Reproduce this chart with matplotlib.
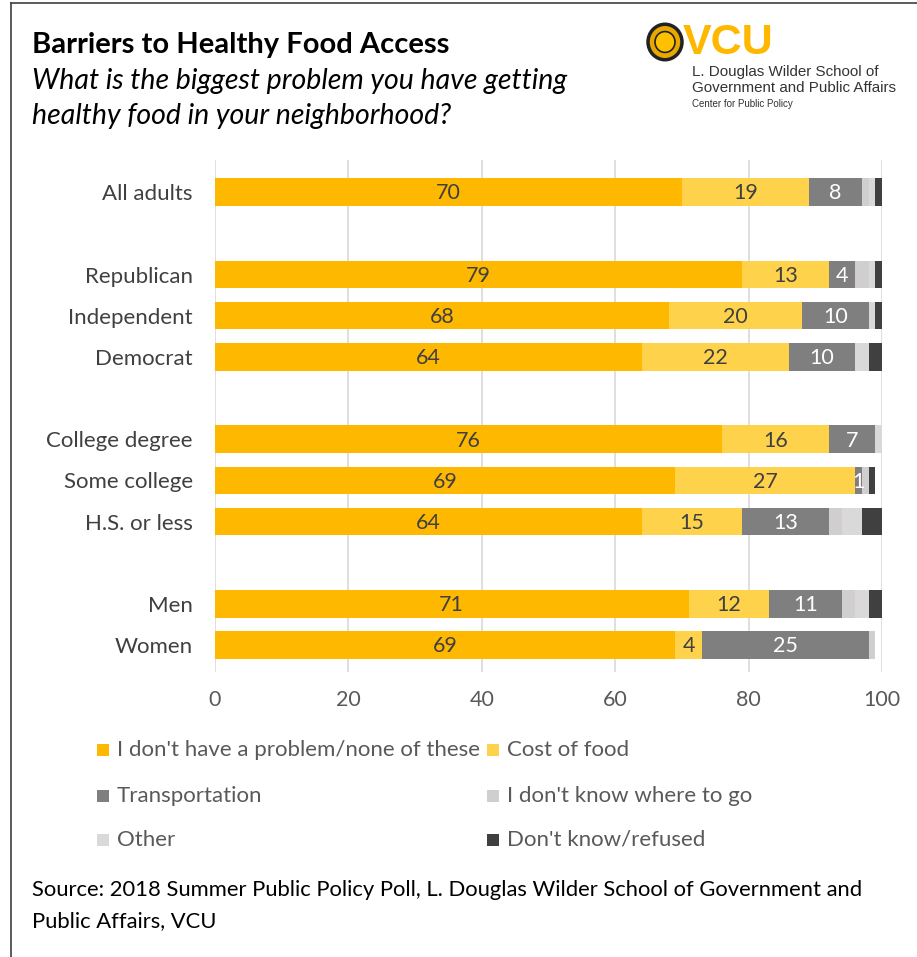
import matplotlib
matplotlib.use("Agg")
import matplotlib.pyplot as plt
from matplotlib.patches import Rectangle, Circle
import numpy as np

W, H = 917, 957
FONT = "Lato"

categories = ["All adults", "", "Republican", "Independent", "Democrat", "",
              "College degree", "Some college", "H.S. or less", "", "Men", "Women"]
series_names = ["I don't have a problem/none of these", "Cost of food", "Transportation",
                "I don't know where to go", "Other", "Don't know/refused"]
no_problem   = [70, 0, 79, 68, 64, 0, 76, 69, 64, 0, 71, 69]
cost_of_food = [19, 0, 13, 20, 22, 0, 16, 27, 15, 0, 12, 4]
transport    = [8, 0, 4, 10, 10, 0, 7, 1, 13, 0, 11, 25]
where_to_go  = [1, 0, 2, 0, 0, 0, 0, 1, 2, 0, 2, 1]
other        = [1, 0, 1, 1, 2, 0, 1.4, 0, 3, 0, 2, 0]
dont_know    = [1, 0, 1, 1, 2, 0, 0, 1, 3, 0, 2, 0]
xticks = [0, 20, 40, 60, 80, 100]

colors = ["#FFB800", "#FFD24C", "#7F7F7F", "#D0CECE", "#D9D9D9", "#404040"]
label_colors = ["#404040", "#404040", "#FFFFFF"]

fig = plt.figure(figsize=(W / 100, H / 100), dpi=100)

def fx(x):
    return x / W

def fy(y):
    return 1 - y / H

ax = fig.add_axes([fx(215), fy(672), fx(882) - fx(215), fy(160) - fy(672)])
series = [no_problem, cost_of_food, transport, where_to_go, other, dont_know]
ypos = np.arange(len(categories))
left = np.zeros(len(categories))
for i, (vals, c) in enumerate(zip(series, colors)):
    vals = np.array(vals, dtype=float)
    ax.barh(ypos, vals, left=left, height=0.67, color=c, zorder=3)
    if i < 3:
        for y, v, l in zip(ypos, vals, left):
            if v > 0:
                ax.text(l + v / 2, y + 0.03, f"{v:g}", ha="center", va="center",
                        color=label_colors[i], fontsize=15.5, family=FONT, zorder=4)
    left += vals

ax.set_xlim(0, 100)
ax.set_ylim(11.65, -0.78)
ax.set_xticks(xticks)
ax.set_xticklabels([str(t) for t in xticks], family=FONT, fontsize=15.5, color="#595959")
ax.set_yticks(ypos)
ax.set_yticklabels(categories, family=FONT, fontsize=16, color="#404040")
ax.tick_params(axis="both", length=0)
ax.tick_params(axis="y", pad=16)
ax.tick_params(axis="x", pad=13)
for s in ax.spines.values():
    s.set_visible(False)
ax.grid(axis="x", color="#D9D9D9", linewidth=1.2, zorder=0)
ax.set_axisbelow(True)

# frame
fig.add_artist(plt.Line2D([fx(11), fx(11)], [fy(3), 0], color="#404040", lw=1.2))
fig.add_artist(plt.Line2D([fx(11), 1], [fy(3), fy(3)], color="#404040", lw=1.2))

# titles
fig.text(fx(32), fy(45), "Barriers to Healthy Food Access", family=FONT, weight="bold",
         fontsize=21, va="center", ha="left", color="black")
fig.text(fx(32), fy(81), "What is the biggest problem you have getting", family=FONT,
         style="italic", fontsize=20.5, va="center", ha="left", color="black")
fig.text(fx(32), fy(116), "healthy food in your neighborhood?", family=FONT,
         style="italic", fontsize=20.5, va="center", ha="left", color="black")

# logo
fig.add_artist(Circle((fx(665), fy(42)), 17 / W, transform=fig.transFigure,
                      facecolor="#E8A800", edgecolor="#222222", lw=2.5))
fig.add_artist(Circle((fx(665), fy(42)), 10 / W, transform=fig.transFigure,
                      facecolor="#FFC000", edgecolor="#222222", lw=1.2))
fig.text(fx(683), fy(43), "VCU", family="Liberation Sans", weight="bold",
         fontsize=31, color="#FFB800", va="center", ha="left")
fig.text(fx(692), fy(72), "L. Douglas Wilder School of", family="Liberation Sans",
         fontsize=10.9, color="#333333", va="center", ha="left")
fig.text(fx(692), fy(88), "Government and Public Affairs", family="Liberation Sans",
         fontsize=10.9, color="#333333", va="center", ha="left")
fig.text(fx(692), fy(104), "Center for Public Policy", family="Liberation Sans",
         fontsize=7, color="#333333", va="center", ha="left")

# legend (manual, row-wise)
leg_pos = [(97, 750), (487, 750), (97, 796), (487, 796), (97, 840), (487, 840)]
for (x, y), name, c in zip(leg_pos, series_names, colors):
    fig.add_artist(Rectangle((fx(x), fy(y + 6)), 12 / W, 12 / H, transform=fig.transFigure,
                             facecolor=c, edgecolor="none"))
    fig.text(fx(x + 20), fy(y), name, family=FONT, fontsize=16, color="#595959",
             va="center", ha="left")

fig.text(fx(32), fy(890), "Source: 2018 Summer Public Policy Poll, L. Douglas Wilder School of Government and",
         family=FONT, fontsize=15.8, color="black", va="center", ha="left")
fig.text(fx(32), fy(921), "Public Affairs, VCU", family=FONT, fontsize=15.8, color="black",
         va="center", ha="left")

fig.savefig("out.png", dpi=100)
